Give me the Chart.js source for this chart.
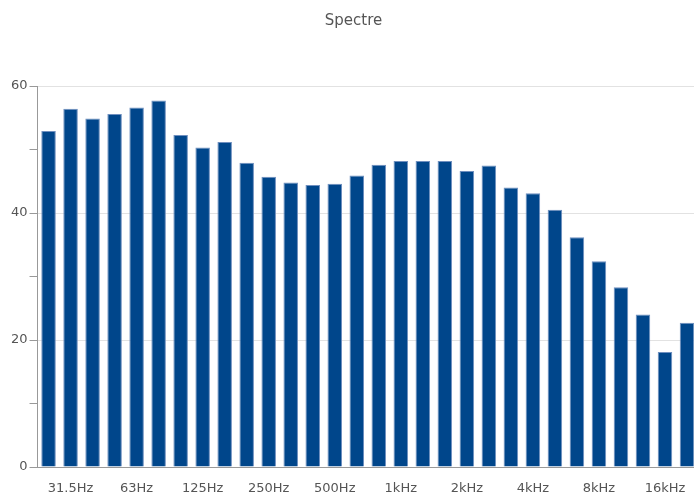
<!DOCTYPE html>
<html>
<head>
<meta charset="utf-8">
<script src="https://cdn.jsdelivr.net/npm/chart.js@4/dist/chart.umd.min.js"></script>
<style>
  html, body { margin: 0; padding: 0; background: #fff; overflow: hidden; }
  /* the plot runs a few px past the window, so the last bar is cut like the original */
  #wrap { width: 698px; height: 495px; }
</style>
</head>
<body>
<div id="wrap"><canvas id="chart"></canvas></div>
<script>
// third-octave bands
const bands = ['25Hz', '31.5Hz', '40Hz', '50Hz', '63Hz', '80Hz', '100Hz', '125Hz', '160Hz', '200Hz',
  '250Hz', '315Hz', '400Hz', '500Hz', '630Hz', '800Hz', '1kHz', '1.25kHz', '1.6kHz', '2kHz',
  '2.5kHz', '3.15kHz', '4kHz', '5kHz', '6.3kHz', '8kHz', '10kHz', '12.5kHz', '16kHz', '20kHz'];
const levels = [52.9, 56.4, 54.9, 55.6, 56.6, 57.7, 52.3, 50.3, 51.2, 47.9,
  45.7, 44.8, 44.4, 44.6, 45.9, 47.6, 48.2, 48.2, 48.2, 46.6,
  47.5, 44.0, 43.1, 40.5, 36.2, 32.4, 28.3, 24.0, 18.1, 22.7];
// only these bands get a label on the x axis
const shownTicks = ['31.5Hz', '63Hz', '125Hz', '250Hz', '500Hz', '1kHz', '2kHz', '4kHz', '8kHz', '16kHz'];
const yTickLabels = [0, 20, 40, 60];

Chart.defaults.font.family = '"DejaVu Sans", sans-serif';
Chart.defaults.color = '#555';

new Chart(document.getElementById('chart'), {
  type: 'bar',
  data: {
    labels: bands,
    datasets: [{
      label: 'Spectre',
      data: levels,
      backgroundColor: '#00468b',
      borderColor: '#6f8fbf',
      borderWidth: 1,
      barPercentage: 0.66,
      categoryPercentage: 1.0
    }]
  },
  options: {
    responsive: true,
    maintainAspectRatio: false,
    animation: false,
    layout: { padding: { left: 9, right: 0, top: 0, bottom: 0 } },
    plugins: {
      legend: { display: false },
      tooltip: { enabled: false },
      title: {
        display: true,
        text: 'Spectre',
        color: '#555',
        font: { size: 15, weight: 'normal' },
        padding: { top: 12, bottom: 56 }
      }
    },
    scales: {
      x: {
        grid: { display: false, drawTicks: false },
        border: { display: true, color: '#999', width: 1 },
        ticks: {
          autoSkip: false,
          maxRotation: 0,
          padding: 14,
          color: '#555',
          font: { size: 13 },
          callback: function (value) {
            const l = bands[value];
            return shownTicks.includes(l) ? l : '';
          }
        },
        // fixed strip for the labels, no side padding so bars run to the edge
        afterFit: s => {
          s.height = 28;
          s.paddingLeft = 0;
          s.paddingRight = 0;
        }
      },
      y: {
        min: 0,
        max: 60,
        border: { display: true, color: '#999', width: 1 },
        grid: {
          color: ctx => (ctx.tick && ctx.tick.value % 20 === 0 && ctx.tick.value > 0) ? '#e2e2e2' : 'rgba(0,0,0,0)',
          tickColor: '#999',
          tickLength: 8
        },
        ticks: {
          stepSize: 10,
          padding: 2,
          color: '#555',
          font: { size: 13 },
          callback: v => yTickLabels.includes(v) ? String(v) : ''
        }
      }
    }
  }
});
</script>
</body>
</html>
